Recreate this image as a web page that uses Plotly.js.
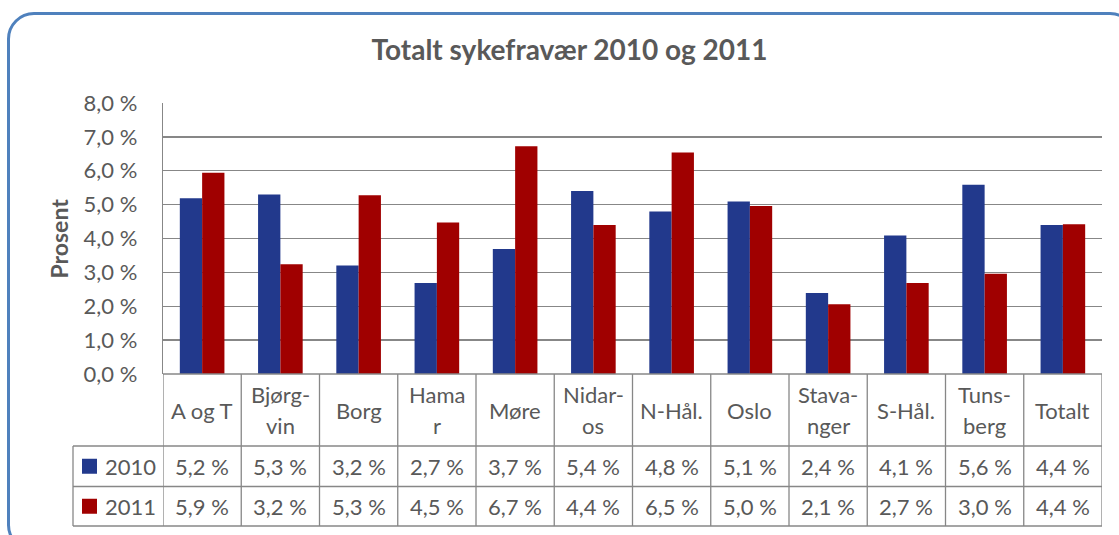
<!DOCTYPE html>
<html>
<head>
<meta charset="utf-8">
<script src="https://cdn.plot.ly/plotly-3.0.1.min.js"></script>
<style>
  html, body { margin: 0; padding: 0; width: 1119px; height: 535px; overflow: hidden; background: #ffffff; }
  #frame { position: absolute; left: 7px; top: 12px; width: 1130px; height: 540px;
           border: 3px solid #4f81bd; border-radius: 27px; background: #ffffff; box-sizing: border-box; }
  #chart { position: absolute; left: 0; top: 0; width: 1119px; height: 535px; }
</style>
</head>
<body>
<div id="frame"></div>
<div id="chart"></div>
<script>
// ---- Data ----
const categories = ['A og T', 'Bjørgvin', 'Borg', 'Hamar', 'Møre', 'Nidaros', 'N-Hål.', 'Oslo', 'Stavanger', 'S-Hål.', 'Tunsberg', 'Totalt'];
const headerLabels = [['A og T'], ['Bjørg-', 'vin'], ['Borg'], ['Hama', 'r'], ['Møre'], ['Nidar-', 'os'], ['N-Hål.'], ['Oslo'], ['Stava-', 'nger'], ['S-Hål.'], ['Tuns-', 'berg'], ['Totalt']];
const seriesNames = ['2010', '2011'];
const values2010 = [5.19, 5.30, 3.20, 2.69, 3.69, 5.40, 4.80, 5.09, 2.39, 4.09, 5.59, 4.40];
const values2011 = [5.94, 3.24, 5.28, 4.47, 6.72, 4.40, 6.54, 4.96, 2.06, 2.69, 2.96, 4.42];
const seriesColors = ['#22398c', '#a00000'];
const titleText = 'Totalt sykefravær 2010 og 2011';
const yTitleText = 'Prosent';

// ---- Layout constants ----
const W = 1119, H = 535, L = 163, R = 17, T = 103, B = 161;
const plotW = W - L - R, plotH = H - T - B;
const px2x = X => (X - L) / plotW;
const px2y = Y => (H - B - Y) / plotH;
const FONT = 'Lato, "Open Sans", sans-serif';
const TXT = '#595959';
const GRID = '#878787';

// table geometry (pixels)
const tblLeft = 73, axisY = H - B, hdrBottom = 446, row1Bottom = 486.5, row2Bottom = 526;

const fmt = v => v.toFixed(1).replace('.', ',') + ' %';

const allSeries = [values2010, values2011];
const traces = allSeries.map((vals, i) => ({
  type: 'bar', name: seriesNames[i], x: categories, y: vals,
  marker: { color: seriesColors[i], line: { width: 0 } },
  hoverinfo: 'x+y', showlegend: false
}));

const shapes = [];
const annotations = [];

// horizontal table lines
[hdrBottom, row1Bottom, row2Bottom].forEach(Y => {
  shapes.push({ type: 'line', xref: 'paper', yref: 'paper', x0: px2x(tblLeft), x1: 1, y0: px2y(Y), y1: px2y(Y),
    line: { color: GRID, width: 1.3 } });
});
// axis line at 0 across plot
shapes.push({ type: 'line', xref: 'paper', yref: 'paper', x0: 0, x1: 1, y0: 0, y1: 0, line: { color: GRID, width: 1.3 } });
// left vertical line of legend column
shapes.push({ type: 'line', xref: 'paper', yref: 'paper', x0: px2x(tblLeft), x1: px2x(tblLeft), y0: px2y(hdrBottom), y1: px2y(row2Bottom),
  line: { color: GRID, width: 1.3 } });
// vertical lines at category boundaries
for (let i = 0; i <= categories.length; i++) {
  shapes.push({ type: 'line', xref: 'x', yref: 'paper', x0: i - 0.5, x1: i - 0.5, y0: 0, y1: px2y(row2Bottom),
    line: { color: GRID, width: 1.3 } });
}

// header labels
const hdrMid = (axisY + hdrBottom) / 2;
const lineGap = 31;
headerLabels.forEach((lines, i) => {
  lines.forEach((t, k) => {
    const Y = hdrMid + (k - (lines.length - 1) / 2) * lineGap;
    annotations.push({ xref: 'x', yref: 'paper', x: i, y: px2y(Y), text: t, showarrow: false,
      xanchor: 'center', yanchor: 'middle', font: { family: FONT, size: 22, color: TXT } });
  });
});

// data rows
const rowMids = [(hdrBottom + row1Bottom) / 2, (row1Bottom + row2Bottom) / 2];
allSeries.forEach((vals, s) => {
  vals.forEach((v, i) => {
    annotations.push({ xref: 'x', yref: 'paper', x: i, y: px2y(rowMids[s]), text: fmt(v), showarrow: false,
      xanchor: 'center', yanchor: 'middle', font: { family: FONT, size: 22, color: TXT } });
  });
  // legend key
  const kx = 82, ks = 15;
  shapes.push({ type: 'rect', xref: 'paper', yref: 'paper', x0: px2x(kx), x1: px2x(kx + ks),
    y0: px2y(rowMids[s] - ks / 2), y1: px2y(rowMids[s] + ks / 2), fillcolor: seriesColors[s], line: { width: 0 } });
  annotations.push({ xref: 'paper', yref: 'paper', x: px2x(103), y: px2y(rowMids[s]), text: seriesNames[s], showarrow: false,
    xanchor: 'left', yanchor: 'middle', font: { family: FONT, size: 22, color: TXT } });
});

// y-axis title
annotations.push({ xref: 'paper', yref: 'paper', x: px2x(58), y: 0.5, text: '<b>' + yTitleText + '</b>', showarrow: false,
  textangle: -90, xanchor: 'center', yanchor: 'middle', font: { family: FONT, size: 23, color: TXT } });

const layout = {
  width: W, height: H,
  margin: { l: L, r: R, t: T, b: B, pad: 0 },
  paper_bgcolor: 'rgba(0,0,0,0)', plot_bgcolor: 'rgba(0,0,0,0)',
  separators: ', ',
  title: { text: '<b>' + titleText + '</b>', x: 0.509, xanchor: 'center', y: 1 - 50 / H, yanchor: 'middle',
    font: { family: FONT, size: 28, color: TXT } },
  barmode: 'group', bargap: 0.43, bargroupgap: 0,
  xaxis: { type: 'category', range: [-0.5, categories.length - 0.5], showticklabels: false, showgrid: false,
    zeroline: false, showline: false, ticks: '', fixedrange: true },
  yaxis: { range: [0, 8], dtick: 1, tickformat: '.1f', ticksuffix: ' %', showgrid: true, gridcolor: GRID, gridwidth: 1.3,
    zeroline: false, showline: true, linecolor: GRID, linewidth: 1.3, ticks: '', ticklabelstandoff: 20,
    tickfont: { family: FONT, size: 22, color: TXT }, fixedrange: true },
  shapes: shapes, annotations: annotations
};

Plotly.newPlot('chart', traces, layout, { displayModeBar: false, staticPlot: true });
</script>
</body>
</html>
